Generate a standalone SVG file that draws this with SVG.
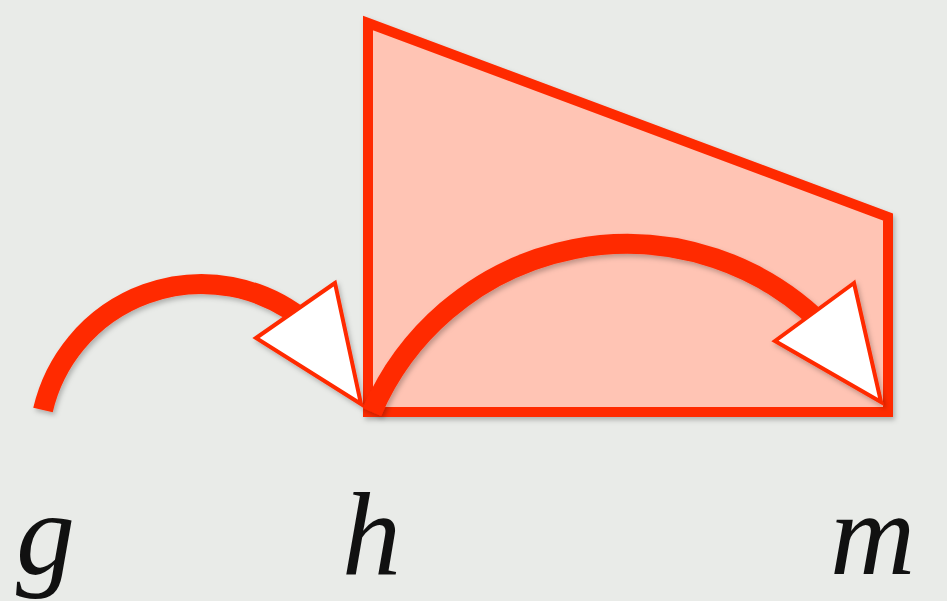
<svg xmlns="http://www.w3.org/2000/svg" width="947" height="601" viewBox="0 0 947 601">
<defs>
<filter id="sh" x="-10%" y="-10%" width="120%" height="120%">
<feDropShadow dx="2" dy="3" stdDeviation="2.5" flood-color="#000" flood-opacity="0.25"/>
</filter>
</defs>
<style>
.lbl{font-family:"Liberation Serif","Times New Roman",serif;font-style:italic;font-size:118px;fill:#111;}
.arc{fill:none;stroke:#FF2A00;stroke-width:20;}
.head{fill:#FFFFFF;stroke:#FF2A00;stroke-width:4;stroke-linejoin:miter;}
</style>
<rect x="0" y="0" width="947" height="601" fill="#E9EBE8"/>
<g id="region" filter="url(#sh)">
<polygon points="368,23 888,217 888,412 368,412" fill="#FFC4B4" stroke="#FF2A00" stroke-width="10" stroke-linejoin="miter"/>
</g>
<g id="connectors" filter="url(#sh)">
<g id="edge-g-h">
<path class="arc" d="M43,410 A163,163 0 0 1 300,317"/>
<polygon class="head" points="335,283 256,338 361,404"/>
</g>
<g id="edge-h-m">
<path class="arc" d="M372,412 A277.5,277.5 0 0 1 822,324"/>
<polygon class="head" points="854,283 775,341 881,402"/>
</g>
</g>
<g id="node-g"><text class="lbl" font-family="Liberation Serif" x="16" y="574">g</text></g>
<g id="node-h"><text class="lbl" font-family="Liberation Serif" x="342" y="574">h</text></g>
<g id="node-m"><text class="lbl" font-family="Liberation Serif" x="830" y="574">m</text></g>
</svg>
